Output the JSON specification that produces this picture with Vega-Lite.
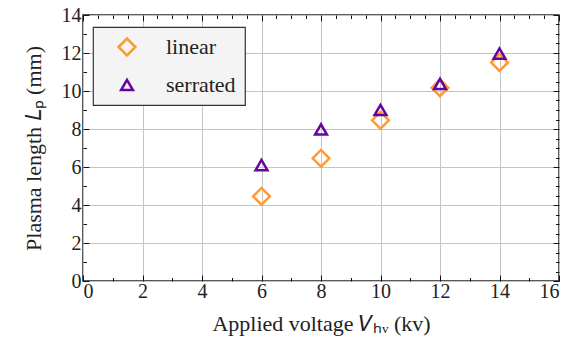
{
  "$schema": "https://vega.github.io/schema/vega-lite/v6.json",
  "autosize": "none",
  "width": 476,
  "height": 266,
  "padding": {"left": 83, "top": 15, "right": 22, "bottom": 64},
  "background": "white",
  "config": {
    "view": {"stroke": "#222", "strokeWidth": 1.5},
    "font": "Liberation Serif",
    "legend": {"strokeWidth": 1.2},
    "style": {"guide-label": {"font": "Liberation Serif"}, "guide-title": {"font": "Liberation Serif"}},
    "axis": {"labelFont": "Liberation Serif", "titleFont": "Liberation Serif", "labelColor": "#222", "titleColor": "#222", "titleFontWeight": "normal", "tickColor": "#111", "tickWidth": 1}
  },
  "data": {"values": [
    {"V": 6, "L": 4.46, "type": "linear"},
    {"V": 8, "L": 6.46, "type": "linear"},
    {"V": 10, "L": 8.46, "type": "linear"},
    {"V": 12, "L": 10.17, "type": "linear"},
    {"V": 14, "L": 11.5, "type": "linear"},
    {"V": 6, "L": 6.1, "type": "serrated"},
    {"V": 8, "L": 7.98, "type": "serrated"},
    {"V": 10, "L": 9.0, "type": "serrated"},
    {"V": 12, "L": 10.37, "type": "serrated"},
    {"V": 14, "L": 11.97, "type": "serrated"}
  ]},
  "resolve": {"axis": {"x": "independent", "y": "independent"}},
  "layer": [
    {
      "mark": {"type": "point", "filled": false, "strokeWidth": 2.5, "opacity": 1},
      "encoding": {
        "x": {"field": "V", "type": "quantitative", "scale": {"domain": [0, 16], "nice": false},
          "axis": {"orient": "bottom", "values": [0,0.5,1,1.5,2,2.5,3,3.5,4,4.5,5,5.5,6,6.5,7,7.5,8,8.5,9,9.5,10,10.5,11,11.5,12,12.5,13,13.5,14,14.5,15,15.5,16], "format": "d", "labelExpr": "datum.value % 2 === 0 ? datum.label : ''", "grid": true, "gridColor": "#c4c4c4", "gridWidth": 1, "gridOpacity": {"condition": {"test": "datum.value % 2 === 0", "value": 1}, "value": 0}, "ticks": true, "tickSize": {"condition": {"test": "datum.value % 2 === 0", "value": -6}, "value": -3.5}, "domain": false, "labelFont": "Liberation Serif", "titleFont": "Liberation Serif", "labelFontSize": 20, "labelPadding": 6, "labelOverlap": false, "title": "Applied voltage 𝑉ₕᵥ (kv)", "titleFontSize": 22, "titlePadding": 10}},
        "y": {"field": "L", "type": "quantitative", "scale": {"domain": [0, 14], "nice": false},
          "axis": {"orient": "left", "values": [0,0.5,1,1.5,2,2.5,3,3.5,4,4.5,5,5.5,6,6.5,7,7.5,8,8.5,9,9.5,10,10.5,11,11.5,12,12.5,13,13.5,14], "format": "d", "labelExpr": "datum.value % 2 === 0 ? datum.label : ''", "grid": true, "gridColor": "#c4c4c4", "gridWidth": 1, "gridOpacity": {"condition": {"test": "datum.value % 2 === 0", "value": 1}, "value": 0}, "ticks": true, "tickSize": {"condition": {"test": "datum.value % 2 === 0", "value": -6}, "value": -3.5}, "domain": false, "labelFont": "Liberation Serif", "titleFont": "Liberation Serif", "labelFontSize": 20, "labelPadding": 8, "labelOverlap": false, "title": "Plasma length 𝐿ₚ (mm)", "titleFontSize": 22, "titlePadding": 16}},
        "color": {"field": "type", "type": "nominal", "scale": {"domain": ["linear", "serrated"], "range": ["#FF9A33", "#66049E"]},
          "legend": {"title": null, "orient": "none", "legendX": 10, "legendY": 12, "fillColor": "#f4f4f4", "strokeColor": "#333", "padding": 9, "symbolOffset": 14, "cornerRadius": 0, "labelFont": "Liberation Serif", "labelFontSize": 22, "labelColor": "#222", "labelOffset": 28, "rowPadding": 13, "symbolSize": 150, "symbolStrokeWidth": 2.5, "symbolFillColor": "transparent"}},
        "shape": {"field": "type", "type": "nominal", "scale": {"domain": ["linear", "serrated"], "range": ["diamond", "triangle-up"]}},
        "size": {"field": "type", "type": "nominal", "scale": {"domain": ["linear", "serrated"], "range": [280, 140]}, "legend": null}
      }
    },
    {
      "mark": {"type": "point", "opacity": 0},
      "encoding": {
        "x": {"field": "V", "type": "quantitative", "axis": {"orient": "top", "values": [0,0.5,1,1.5,2,2.5,3,3.5,4,4.5,5,5.5,6,6.5,7,7.5,8,8.5,9,9.5,10,10.5,11,11.5,12,12.5,13,13.5,14,14.5,15,15.5,16], "grid": false, "labels": false, "domain": false, "ticks": true, "tickSize": {"condition": {"test": "datum.value % 2 === 0", "value": -6}, "value": -3.5}, "title": null}},
        "y": {"field": "L", "type": "quantitative", "axis": {"orient": "right", "values": [0,0.5,1,1.5,2,2.5,3,3.5,4,4.5,5,5.5,6,6.5,7,7.5,8,8.5,9,9.5,10,10.5,11,11.5,12,12.5,13,13.5,14], "grid": false, "labels": false, "domain": false, "ticks": true, "tickSize": {"condition": {"test": "datum.value % 2 === 0", "value": -6}, "value": -3.5}, "title": null}}
      }
    }
  ]
}
